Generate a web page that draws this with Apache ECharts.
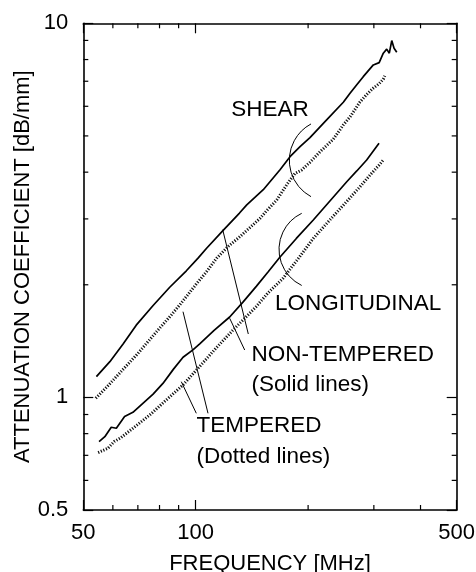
<!DOCTYPE html>
<html>
<head>
<meta charset="utf-8">
<script src="https://cdn.jsdelivr.net/npm/echarts@6/dist/echarts.min.js"></script>
<style>
html,body{margin:0;padding:0;background:#fff;}
#c{width:476px;height:572px;}
</style>
</head>
<body>
<div id="c"></div>
<script>
// ---- data (frequency in MHz, attenuation in dB/mm) ----
const shearNonTemperedFreq = [54.2,58.9,63.9,69.3,76.9,85.2,94.4,101.6,106.8,118.6,131,137,151.7,168.2,178.9,190.3,202.3,224.2,248.5,259,270,281,299,310,318,324.7,330,335,339.8,345.5];
const shearNonTemperedVal  = [1.136,1.246,1.39,1.56,1.76,1.97,2.18,2.36,2.50,2.80,3.11,3.27,3.59,4.06,4.40,4.68,4.95,5.52,6.15,6.5,6.85,7.2,7.74,7.85,8.32,8.53,8.32,8.99,8.58,8.37];

const shearTemperedFreq = [54,58,62,66,70,75,80,86,92,100,107,114,122,131.4,140,148.7,156,164.8,175.3,184.5,192,202.3,216,233.6,248.5,260,275,287,299,310,318,321];
const shearTemperedVal  = [0.995,1.07,1.15,1.23,1.31,1.42,1.53,1.66,1.80,2.00,2.17,2.36,2.53,2.69,2.85,3.01,3.18,3.37,3.70,3.97,4.05,4.25,4.55,4.90,5.35,5.65,6.15,6.45,6.71,6.9,7.09,7.24];

const longNonTemperedFreq = [55.1,57.1,59.4,61.3,64.5,67.9,72.2,76.9,81.7,87.2,92.5,98.3,102.5,112,123.3,134,145.3,156,168,186,206.5,230,253.8,270,287,309.7];
const longNonTemperedVal  = [0.762,0.785,0.832,0.827,0.889,0.912,0.964,1.02,1.09,1.19,1.28,1.34,1.39,1.51,1.64,1.80,1.98,2.16,2.37,2.66,2.98,3.37,3.77,4.03,4.31,4.78];

const longTemperedFreq = [54.8,58.2,60.5,63,67.9,75.3,83.4,92.5,102.5,113,125.9,145.3,156,171.3,190,206.5,230,253.8,275,293,310,318];
const longTemperedVal  = [0.712,0.731,0.762,0.78,0.827,0.897,0.984,1.08,1.21,1.35,1.514,1.75,1.90,2.08,2.38,2.66,3.0,3.34,3.65,3.93,4.18,4.31];

const xMin = 50, xMax = 500;
const yMin = 0.5, yMax = 10;
const xMinorTicks = [60,70,80,90,200,300,400];
const yMinorTicks = [0.6,0.7,0.8,0.9,2,3,4,5,6,7,8,9];

const FONT = '"Liberation Sans", Arial, Helvetica, sans-serif';
const pairs = (xs, ys) => xs.map((x, i) => [x, ys[i]]);

const chart = echarts.init(document.getElementById('c'), null, {renderer: 'canvas'});

const TICK = 5;
const tickStyle = {stroke: '#000', lineWidth: 1.2};

function xTickRender(params, api) {
  const v = api.value(0);
  const b = api.coord([v, yMin]);
  const t = api.coord([v, yMax]);
  return {type: 'group', children: [
    {type: 'line', shape: {x1: b[0], y1: b[1], x2: b[0], y2: b[1] - TICK}, style: tickStyle},
    {type: 'line', shape: {x1: t[0], y1: t[1], x2: t[0], y2: t[1] + TICK}, style: tickStyle}
  ]};
}
function yTickRender(params, api) {
  const v = api.value(1);
  const l = api.coord([xMin, v]);
  const r = api.coord([xMax, v]);
  return {type: 'group', children: [
    {type: 'line', shape: {x1: l[0], y1: l[1], x2: l[0] + TICK, y2: l[1]}, style: tickStyle},
    {type: 'line', shape: {x1: r[0], y1: r[1], x2: r[0] - TICK, y2: r[1]}, style: tickStyle}
  ]};
}

const axisCommon = {
  axisLine: {show: true, onZero: false, lineStyle: {color: '#000', width: 1.6}},
  axisTick: {show: true, inside: true, length: 10, lineStyle: {color: '#000', width: 1.2}},
  splitLine: {show: false},
  minorTick: {show: false},
  minorSplitLine: {show: false}
};
const labelStyle = {fontSize: 22, color: '#000', fontFamily: FONT};

const solidLine = {color: '#000', width: 1.7, type: 'solid'};
const dottedLine = {color: '#111', width: 3, type: [1.2, 1.6]};

function lineSeries(name, data, style) {
  return {
    name, type: 'line', data, showSymbol: false, symbol: 'none',
    lineStyle: style, smooth: false, animation: false, z: 3, silent: true
  };
}

const deg = Math.PI / 180;
const annoText = (text, x, y, align) => ({
  type: 'text', x, y, silent: true,
  style: {text, fill: '#000', font: '22.5px ' + FONT, textAlign: align, textVerticalAlign: 'middle'}
});
const thin = {stroke: '#000', lineWidth: 1, fill: null};

chart.setOption({
  animation: false,
  backgroundColor: '#fff',
  grid: {left: 83.3, right: 19.3, top: 23.3, bottom: 62, containLabel: false, outerBoundsMode: 'none'},
  xAxis: [
    Object.assign({}, axisCommon, {
      type: 'log', logBase: 10, min: xMin, max: xMax, position: 'bottom',
      axisLabel: Object.assign({show: true, margin: 12}, labelStyle),
      name: 'FREQUENCY [MHz]', nameLocation: 'middle', nameGap: 43, nameMoveOverlap: false,
      nameTextStyle: {fontSize: 22, color: '#000', fontFamily: FONT}
    }),
    Object.assign({}, axisCommon, {
      type: 'log', logBase: 10, min: xMin, max: xMax, position: 'top',
      axisLabel: {show: false}
    })
  ],
  yAxis: [
    Object.assign({}, axisCommon, {
      type: 'log', logBase: 10, min: yMin, max: yMax, position: 'left',
      axisLabel: Object.assign({show: true, margin: 15}, labelStyle),
      name: 'ATTENUATION COEFFICIENT [dB/mm]', nameLocation: 'middle', nameGap: 49, nameRotate: 90, nameMoveOverlap: false,
      nameTextStyle: {fontSize: 22, color: '#000', fontFamily: FONT}
    }),
    Object.assign({}, axisCommon, {
      type: 'log', logBase: 10, min: yMin, max: yMax, position: 'right',
      axisLabel: {show: false}
    })
  ],
  series: [
    lineSeries('Shear non-tempered', pairs(shearNonTemperedFreq, shearNonTemperedVal), solidLine),
    lineSeries('Shear tempered', pairs(shearTemperedFreq, shearTemperedVal), dottedLine),
    lineSeries('Longitudinal non-tempered', pairs(longNonTemperedFreq, longNonTemperedVal), solidLine),
    lineSeries('Longitudinal tempered', pairs(longTemperedFreq, longTemperedVal), dottedLine),
    {type: 'custom', renderItem: xTickRender, data: xMinorTicks.map(v => [v, yMin]), silent: true, clip: false, z: 4, animation: false},
    {type: 'custom', renderItem: yTickRender, data: yMinorTicks.map(v => [xMin, v]), silent: true, clip: false, z: 4, animation: false}
  ],
  graphic: [
    annoText('SHEAR', 270, 110, 'center'),
    annoText('LONGITUDINAL', 275, 304, 'left'),
    annoText('NON-TEMPERED', 251.5, 355, 'left'),
    annoText('(Solid lines)', 251.5, 385, 'left'),
    annoText('TEMPERED', 196.5, 426, 'left'),
    annoText('(Dotted lines)', 196.5, 457, 'left'),
    {type: 'arc', silent: true, shape: {cx: 330.6, cy: 160.3, r: 41.3, startAngle: 118.3 * deg, endAngle: 241.7 * deg, clockwise: true}, style: thin},
    {type: 'arc', silent: true, shape: {cx: 319, cy: 249.4, r: 40, startAngle: 115.6 * deg, endAngle: 244.4 * deg, clockwise: true}, style: thin},
    {type: 'line', silent: true, shape: {x1: 222.7, y1: 229.7, x2: 248.3, y2: 334}, style: thin},
    {type: 'line', silent: true, shape: {x1: 229.7, y1: 318.3, x2: 244.7, y2: 350}, style: thin},
    {type: 'line', silent: true, shape: {x1: 183, y1: 311.7, x2: 208, y2: 413.3}, style: thin},
    {type: 'line', silent: true, shape: {x1: 181.3, y1: 381.7, x2: 196.3, y2: 413.3}, style: thin}
  ]
});
</script>
</body>
</html>
